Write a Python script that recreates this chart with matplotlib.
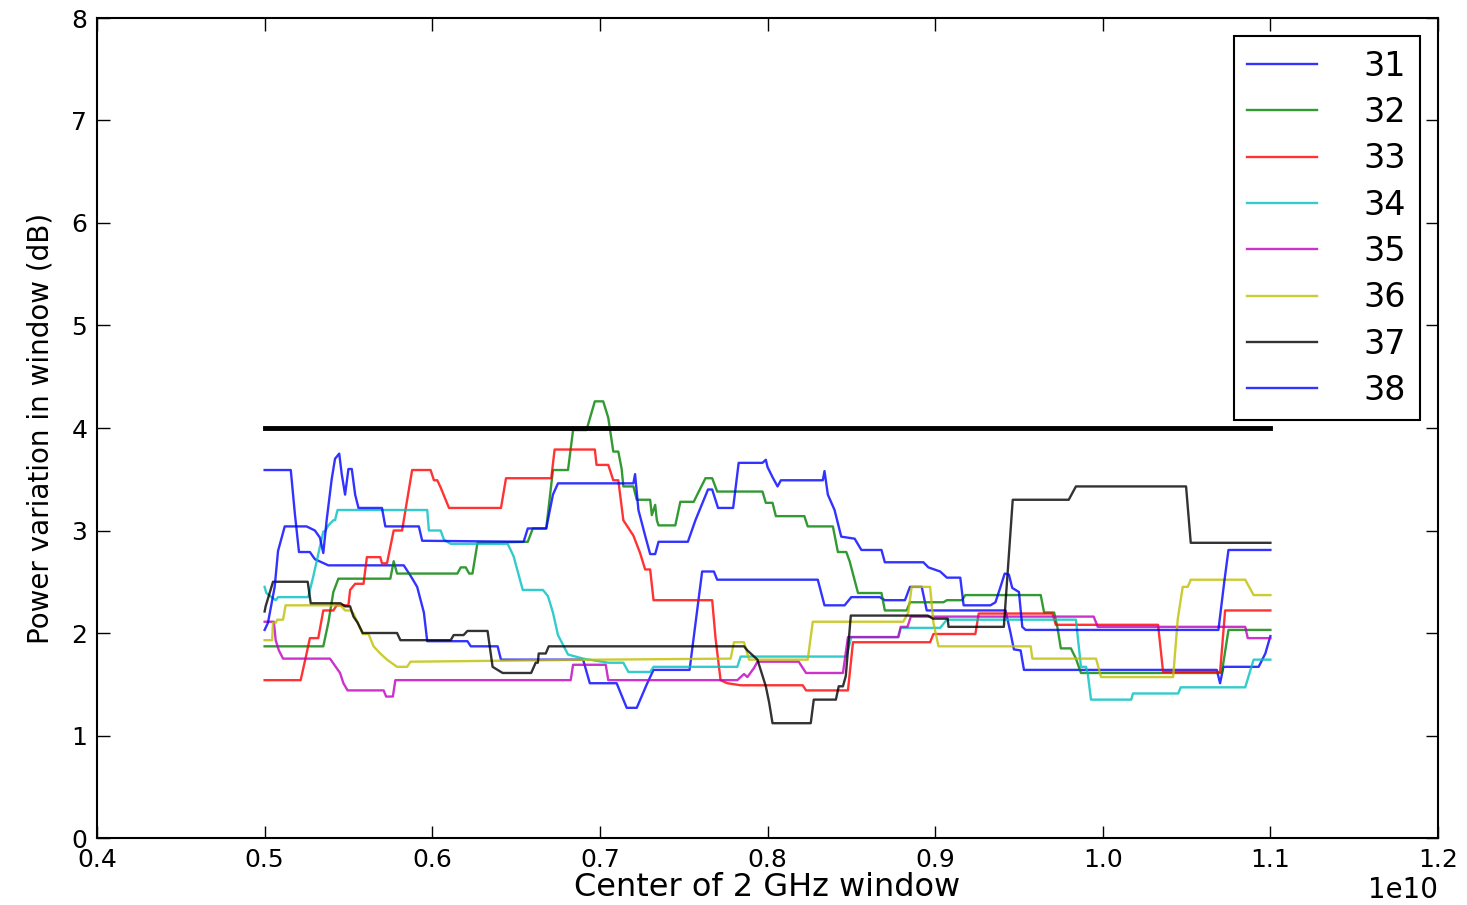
import numpy as np
import matplotlib
matplotlib.use('Agg')
import matplotlib.pyplot as plt

# window centres in units of 1e10 Hz, power variation in dB
s31 = [(0.5, 3.59), (0.5156, 3.59), (0.518, 3.17), (0.5205, 2.79), (0.527, 2.79), (0.530, 2.72),
       (0.538, 2.66), (0.583, 2.66), (0.587, 2.56), (0.591, 2.45), (0.595, 2.2), (0.597, 1.92),
       (0.621, 1.92), (0.623, 1.87), (0.639, 1.87), (0.641, 1.74), (0.690, 1.74), (0.694, 1.51),
       (0.710, 1.51), (0.716, 1.27), (0.722, 1.27), (0.728, 1.5), (0.732, 1.64), (0.7535, 1.64),
       (0.761, 2.6), (0.768, 2.6), (0.770, 2.52), (0.830, 2.52), (0.834, 2.27), (0.846, 2.27),
       (0.850, 2.35), (0.867, 2.35), (0.870, 2.32), (0.882, 2.32), (0.885, 2.45), (0.892, 2.45),
       (0.895, 2.22), (0.942, 2.22), (0.945, 2.0), (0.947, 1.84), (0.951, 1.83), (0.953, 1.64),
       (1.068, 1.64), (1.070, 1.51), (1.072, 1.67), (1.093, 1.67), (1.097, 1.8), (1.1, 1.97)]

s32 = [(0.5, 1.87), (0.535, 1.87), (0.538, 2.1), (0.541, 2.4), (0.544, 2.53), (0.575, 2.53),
       (0.577, 2.7), (0.579, 2.58), (0.615, 2.58), (0.617, 2.64), (0.620, 2.64), (0.622, 2.58),
       (0.624, 2.58), (0.627, 2.88), (0.657, 2.89), (0.660, 3.02), (0.668, 3.02), (0.672, 3.59),
       (0.681, 3.59), (0.684, 3.98), (0.692, 3.98), (0.697, 4.26), (0.702, 4.26), (0.705, 4.1),
       (0.708, 3.77), (0.711, 3.77), (0.713, 3.6), (0.714, 3.43), (0.720, 3.43), (0.722, 3.3),
       (0.730, 3.3), (0.731, 3.15), (0.733, 3.25), (0.734, 3.1), (0.735, 3.05), (0.745, 3.05),
       (0.748, 3.28), (0.756, 3.28), (0.759, 3.38), (0.763, 3.51), (0.767, 3.51), (0.770, 3.38),
       (0.797, 3.38), (0.799, 3.27), (0.803, 3.27), (0.805, 3.14), (0.822, 3.14), (0.824, 3.04),
       (0.839, 3.04), (0.842, 2.79), (0.847, 2.79), (0.849, 2.7), (0.854, 2.39), (0.868, 2.39),
       (0.870, 2.22), (0.883, 2.22), (0.885, 2.3), (0.905, 2.3), (0.907, 2.32), (0.916, 2.32),
       (0.918, 2.37), (0.963, 2.37), (0.965, 2.2), (0.971, 2.2), (0.973, 2.05), (0.975, 1.85),
       (0.981, 1.85), (0.984, 1.75), (0.987, 1.61), (1.071, 1.61), (1.075, 2.03), (1.1, 2.03)]

s33 = [(0.5, 1.54), (0.5215, 1.54), (0.5245, 1.76), (0.527, 1.95), (0.532, 1.95), (0.535, 2.22),
       (0.541, 2.22), (0.543, 2.27), (0.550, 2.27), (0.551, 2.42), (0.554, 2.48), (0.559, 2.48),
       (0.561, 2.74), (0.569, 2.74), (0.570, 2.68), (0.573, 2.68), (0.577, 3.0), (0.582, 3.0),
       (0.588, 3.59), (0.599, 3.59), (0.601, 3.49), (0.603, 3.49), (0.605, 3.42), (0.610, 3.22),
       (0.641, 3.22), (0.644, 3.51), (0.671, 3.51), (0.673, 3.79), (0.697, 3.79), (0.698, 3.64),
       (0.705, 3.64), (0.708, 3.49), (0.711, 3.49), (0.714, 3.1), (0.720, 2.95), (0.724, 2.78),
       (0.727, 2.62), (0.730, 2.62), (0.732, 2.32), (0.767, 2.32), (0.769, 1.95), (0.772, 1.54),
       (0.776, 1.51), (0.784, 1.49), (0.821, 1.49), (0.823, 1.44), (0.848, 1.44), (0.851, 1.91),
       (0.897, 1.91), (0.899, 1.99), (0.924, 1.99), (0.926, 2.19), (0.970, 2.19), (0.972, 2.08),
       (1.033, 2.08), (1.036, 1.62), (1.070, 1.62), (1.073, 2.22), (1.1, 2.22)]

s34 = [(0.5, 2.45), (0.501, 2.39), (0.5066, 2.32), (0.508, 2.35), (0.526, 2.35), (0.529, 2.55),
       (0.532, 2.77), (0.535, 2.99), (0.536, 2.99), (0.538, 3.05), (0.541, 3.10), (0.542, 3.10),
       (0.5435, 3.2), (0.597, 3.2), (0.598, 3.0), (0.605, 3.0), (0.607, 2.91), (0.611, 2.87),
       (0.645, 2.87), (0.6485, 2.75), (0.654, 2.42), (0.666, 2.42), (0.669, 2.36), (0.672, 2.2),
       (0.675, 1.98), (0.681, 1.79), (0.690, 1.75), (0.705, 1.71), (0.714, 1.71), (0.717, 1.62),
       (0.730, 1.62), (0.732, 1.67), (0.782, 1.67), (0.784, 1.77), (0.847, 1.77), (0.850, 1.96),
       (0.878, 1.96), (0.8795, 2.05), (0.903, 2.05), (0.907, 2.13), (0.984, 2.13), (0.987, 1.67),
       (0.990, 1.67), (0.991, 1.61), (0.993, 1.35), (1.017, 1.35), (1.018, 1.41), (1.045, 1.41),
       (1.0465, 1.47), (1.085, 1.47), (1.09, 1.74), (1.1, 1.74)]

s35 = [(0.5, 2.11), (0.5055, 2.11), (0.5066, 1.93), (0.5085, 1.83), (0.511, 1.75), (0.539, 1.75),
       (0.542, 1.68), (0.545, 1.61), (0.547, 1.51), (0.5495, 1.44), (0.571, 1.44), (0.5725, 1.38),
       (0.5765, 1.38), (0.578, 1.54), (0.6826, 1.54), (0.684, 1.69), (0.7035, 1.69), (0.705, 1.54),
       (0.782, 1.54), (0.786, 1.6), (0.788, 1.57), (0.792, 1.66), (0.794, 1.72), (0.8186, 1.72),
       (0.823, 1.61), (0.845, 1.61), (0.848, 1.96), (0.878, 1.96), (0.8795, 2.06), (0.8835, 2.06),
       (0.8855, 2.16), (0.9946, 2.16), (0.997, 2.06), (1.085, 2.06), (1.0865, 1.95), (1.1, 1.95)]

s36 = [(0.5, 1.93), (0.5045, 1.93), (0.505, 2.10), (0.5066, 2.10), (0.5076, 2.13), (0.511, 2.13),
       (0.5125, 2.27), (0.5453, 2.27), (0.548, 2.22), (0.551, 2.22), (0.553, 2.19), (0.5555, 2.1),
       (0.5585, 1.99), (0.562, 1.99), (0.565, 1.87), (0.569, 1.8), (0.573, 1.74), (0.579, 1.67),
       (0.585, 1.67), (0.587, 1.72), (0.70, 1.74), (0.778, 1.75), (0.780, 1.91), (0.786, 1.91),
       (0.789, 1.74), (0.824, 1.74), (0.827, 2.11), (0.881, 2.11), (0.884, 2.2), (0.886, 2.45),
       (0.897, 2.45), (0.899, 2.1), (0.902, 1.87), (0.957, 1.87), (0.958, 1.75), (0.996, 1.75),
       (0.999, 1.57), (1.042, 1.57), (1.0447, 2.13), (1.0477, 2.45), (1.0507, 2.45), (1.0525, 2.52),
       (1.085, 2.52), (1.09, 2.37), (1.1, 2.37)]

s37 = [(0.5, 2.21), (0.5006, 2.26), (0.505, 2.5), (0.5257, 2.5), (0.5275, 2.29), (0.5453, 2.29),
       (0.548, 2.26), (0.551, 2.26), (0.553, 2.16), (0.5555, 2.1), (0.5585, 2.0), (0.579, 2.0),
       (0.581, 1.93), (0.611, 1.93), (0.6128, 1.98), (0.6187, 1.98), (0.621, 2.02), (0.633, 2.02),
       (0.636, 1.67), (0.642, 1.61), (0.659, 1.61), (0.6617, 1.71), (0.663, 1.71), (0.6635, 1.80),
       (0.6677, 1.80), (0.6695, 1.87), (0.786, 1.87), (0.788, 1.83), (0.794, 1.74), (0.799, 1.48),
       (0.801, 1.32), (0.803, 1.12), (0.8258, 1.12), (0.8276, 1.35), (0.8408, 1.35), (0.8425, 1.48),
       (0.845, 1.48), (0.8467, 1.58), (0.8497, 2.17), (0.8956, 2.17), (0.8986, 2.14), (0.9075, 2.14),
       (0.908, 2.06), (0.941, 2.06), (0.9463, 3.3), (0.9797, 3.3), (0.984, 3.43), (1.0497, 3.43),
       (1.0525, 2.88), (1.1, 2.88)]

s38 = [(0.5, 2.03), (0.502, 2.1), (0.506, 2.45), (0.508, 2.8), (0.512, 3.04), (0.525, 3.04),
       (0.530, 3.0), (0.533, 2.93), (0.535, 2.78), (0.537, 3.1), (0.540, 3.5), (0.542, 3.7),
       (0.5445, 3.75), (0.546, 3.55), (0.548, 3.35), (0.550, 3.6), (0.552, 3.6), (0.554, 3.35),
       (0.556, 3.22), (0.570, 3.22), (0.572, 3.04), (0.592, 3.04), (0.594, 2.9), (0.6545, 2.89),
       (0.657, 3.02), (0.668, 3.02), (0.672, 3.35), (0.675, 3.46), (0.720, 3.46), (0.721, 3.55),
       (0.723, 3.2), (0.727, 2.95), (0.730, 2.77), (0.733, 2.77), (0.735, 2.89), (0.7525, 2.89),
       (0.757, 3.1), (0.7645, 3.4), (0.767, 3.4), (0.7705, 3.22), (0.7795, 3.22), (0.7828, 3.66),
       (0.797, 3.66), (0.799, 3.69), (0.800, 3.62), (0.803, 3.52), (0.806, 3.43), (0.808, 3.49),
       (0.833, 3.49), (0.834, 3.58), (0.836, 3.35), (0.840, 3.2), (0.844, 2.94), (0.852, 2.92),
       (0.856, 2.81), (0.868, 2.81), (0.870, 2.69), (0.893, 2.69), (0.896, 2.64), (0.903, 2.6),
       (0.907, 2.54), (0.915, 2.54), (0.917, 2.27), (0.933, 2.27), (0.936, 2.3), (0.939, 2.45),
       (0.9415, 2.58), (0.944, 2.57), (0.946, 2.44), (0.950, 2.4), (0.952, 2.06), (0.954, 2.03),
       (1.069, 2.03), (1.0725, 2.5), (1.075, 2.81), (1.1, 2.81)]

labels = ['31', '32', '33', '34', '35', '36', '37', '38']
colors = ['b', 'g', 'r', 'c', 'm', 'y', 'k', 'b']
series = [s31, s32, s33, s34, s35, s36, s37, s38]

# limit line
limit_db = 4.0
limit_x = [0.5, 1.1]

fig = plt.figure(figsize=(14.67, 9.05), dpi=100)
ax = fig.add_axes([97 / 1467, 67 / 905, 1341 / 1467, 820 / 905])

for s, lab, col in zip(series, labels, colors):
    pts = np.array(s)
    ax.plot(pts[:, 0] * 1e10, pts[:, 1], color=col, lw=1.7, alpha=0.8, label=lab)

ax.plot(np.array(limit_x) * 1e10, [limit_db, limit_db], color='k', lw=3.5)

ax.set_xlim(0.4e10, 1.2e10)
ax.set_ylim(0, 8)
ax.set_xticks(np.arange(0.4, 1.21, 0.1) * 1e10)
ax.set_yticks(range(0, 9))
ax.tick_params(direction='in', length=9, width=1, top=True, right=True, labelsize=18, pad=7)
ax.xaxis.get_offset_text().set_fontsize(20)
for sp in ax.spines.values():
    sp.set_linewidth(1.5)

ax.set_xlabel('Center of 2 GHz window', fontsize=23, labelpad=0)
ax.set_ylabel('Power variation in window (dB)', fontsize=20, labelpad=12)

leg = ax.legend(loc='upper right', fontsize=24, fancybox=False, framealpha=1,
                edgecolor='k', handlelength=2.1, handletextpad=1.4, labelspacing=0.4,
                borderaxespad=0.55, borderpad=0.4)
leg.get_frame().set_linewidth(1.5)
for h in leg.get_lines():
    h.set_linewidth(1.7)

fig.savefig('out.png', dpi=100)
